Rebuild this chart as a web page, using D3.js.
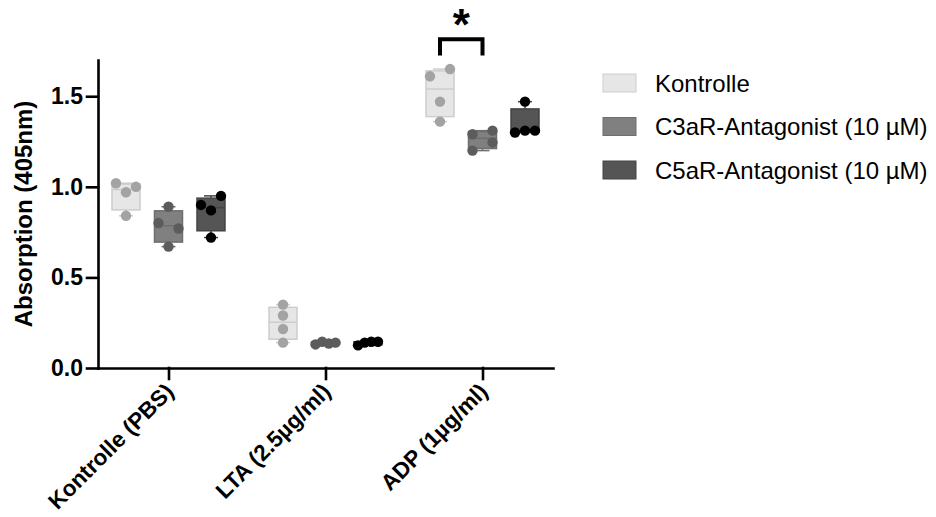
<!DOCTYPE html>
<html>
<head>
<meta charset="utf-8">
<script src="https://cdn.jsdelivr.net/npm/d3@7"></script>
<style>
  body { margin: 0; background: #fff; }
  svg { display: block; font-family: "Liberation Sans", Arial, sans-serif; }
</style>
</head>
<body>
<div id="chart"></div>
<script>
// --- data ---
const groups = ["Kontrolle (PBS)", "LTA (2.5µg/ml)", "ADP (1µg/ml)"];
const series = ["Kontrolle", "C3aR-Antagonist (10 µM)", "C5aR-Antagonist (10 µM)"];

// one array per series, one inner array (replicates) per group
const kontrolleValues = [[1.02, 0.97, 1.00, 0.84], [0.35, 0.29, 0.215, 0.14], [1.61, 1.65, 1.47, 1.36]];
const c3arValues      = [[0.89, 0.80, 0.77, 0.67], [0.13, 0.145, 0.135, 0.14], [1.29, 1.31, 1.20, 1.245]];
const c5arValues      = [[0.90, 0.95, 0.87, 0.72], [0.125, 0.14, 0.145, 0.145], [1.47, 1.30, 1.31, 1.31]];

const yTicks = [0, 0.5, 1.0, 1.5];
const yMax = 1.7;

// significance bracket: ADP, Kontrolle vs C3aR
const sigGroup = "ADP (1µg/ml)";
const sigPair = ["Kontrolle", "C3aR-Antagonist (10 µM)"];
const sigLabel = "*";

// --- styles ---
const boxFill   = ["#e6e6e6", "#808080", "#555555"];
const boxStroke = ["#cdcdcd", "#6e6e6e", "#444444"];
const dotFill   = ["#a3a3a3", "#5c5c5c", "#000000"];

const width = 936, height = 517;
const svg = d3.select("#chart").append("svg")
    .attr("width", width)
    .attr("height", height);

const allValues = [kontrolleValues, c3arValues, c5arValues];

const x = d3.scalePoint(groups, [98, 553]).padding(0.449);
const xSub = d3.scalePoint(series, [-42.5, 42.5]);
const y = d3.scaleLinear([0, yMax], [368, 60]);

const boxW = 28, capW = 14, r = 5.2;
const rowH = 10, halfSpread = 10;

// GraphPad-style percentile (n+1)p
function quant(sorted, p) {
    const n = sorted.length;
    const pos = p * (n + 1);
    if (pos <= 1) return sorted[0];
    if (pos >= n) return sorted[n - 1];
    const lo = Math.floor(pos);
    return sorted[lo - 1] + (pos - lo) * (sorted[lo] - sorted[lo - 1]);
}

// scatter like Prism: dots that fall in the same row are spread sideways
function scatterRows(vals) {
    const pts = vals.map((v, i) => ({ v, i, py: y(v), px: 0 }));
    const byTop = pts.slice().sort((a, b) => a.py - b.py);
    let row = [];
    const flush = () => {
        row.sort((a, b) => a.i - b.i);
        const k = row.length;
        row.forEach((p, j) => { p.px = k > 1 ? -halfSpread + 2 * halfSpread * j / (k - 1) : 0; });
        row = [];
    };
    byTop.forEach(p => {
        if (row.length && p.py - row[0].py >= rowH) flush();
        row.push(p);
    });
    flush();
    return pts;
}

// build per box records
const boxes = [];
series.forEach((s, si) => {
    groups.forEach((g, gi) => {
        const vals = allValues[si][gi];
        const sorted = vals.slice().sort(d3.ascending);
        boxes.push({
            s, si, g,
            cx: x(g) + xSub(s),
            min: sorted[0], max: sorted[sorted.length - 1],
            q1: quant(sorted, 0.25), med: quant(sorted, 0.5), q3: quant(sorted, 0.75),
            pts: scatterRows(vals)
        });
    });
});

const gBox = svg.append("g").selectAll("g")
    .data(boxes)
    .join("g")
    .attr("transform", d => `translate(${d.cx},0)`);

// whiskers
gBox.append("line")
    .attr("y1", d => y(d.max)).attr("y2", d => y(d.q3))
    .attr("stroke", d => boxStroke[d.si]).attr("stroke-width", 1.5);
gBox.append("line")
    .attr("y1", d => y(d.q1)).attr("y2", d => y(d.min))
    .attr("stroke", d => boxStroke[d.si]).attr("stroke-width", 1.5);
gBox.selectAll(".cap")
    .data(d => [d.min, d.max].map(v => ({ v, si: d.si })))
    .join("line")
    .attr("class", "cap")
    .attr("x1", -capW / 2).attr("x2", capW / 2)
    .attr("y1", d => y(d.v)).attr("y2", d => y(d.v))
    .attr("stroke", d => boxStroke[d.si]).attr("stroke-width", 1.5);

// box
gBox.append("rect")
    .attr("x", -boxW / 2).attr("width", boxW)
    .attr("y", d => y(d.q3))
    .attr("height", d => Math.max(0.5, y(d.q1) - y(d.q3)))
    .attr("fill", d => boxFill[d.si])
    .attr("stroke", d => boxStroke[d.si]).attr("stroke-width", 1.5);
gBox.append("line")
    .attr("x1", -boxW / 2).attr("x2", boxW / 2)
    .attr("y1", d => y(d.med)).attr("y2", d => y(d.med))
    .attr("stroke", d => boxStroke[d.si]).attr("stroke-width", 1.5);

// dots
gBox.selectAll("circle")
    .data(d => d.pts.map(p => ({ ...p, si: d.si })))
    .join("circle")
    .attr("cx", d => d.px).attr("cy", d => d.py)
    .attr("r", r)
    .attr("fill", d => dotFill[d.si]);

// axes
const yAxis = svg.append("g")
    .attr("transform", "translate(98,0)")
    .call(d3.axisLeft(y).tickValues(yTicks).tickFormat(d3.format(".1f")).tickSize(11).tickSizeOuter(0).tickPadding(4));
const xAxis = svg.append("g")
    .attr("transform", `translate(0,${y(0)})`)
    .call(d3.axisBottom(x).tickSize(11).tickSizeOuter(0));

[yAxis, xAxis].forEach(a => {
    a.selectAll("path, line").attr("stroke", "#000").attr("stroke-width", 2.6).attr("stroke-linecap", "square");
    a.selectAll("text").attr("fill", "#000").attr("font-size", 23).attr("font-weight", "bold")
        .attr("font-family", "'Liberation Sans', Arial, sans-serif");
});

xAxis.selectAll("text")
    .attr("x", 0).attr("y", 0).attr("dy", 0)
    .attr("font-size", 22.5)
    .attr("text-anchor", "end")
    .attr("transform", "translate(6,25) rotate(-45)");

svg.append("text")
    .attr("transform", `translate(32,${y(yMax / 2)}) rotate(-90)`)
    .attr("text-anchor", "middle")
    .attr("font-size", 24).attr("font-weight", "bold")
    .text("Absorption (405nm)");

// significance bracket
const bx1 = x(sigGroup) + xSub(sigPair[0]);
const bx2 = x(sigGroup) + xSub(sigPair[1]);
const bTop = y(1.815), bLeg = y(1.725);
svg.append("path")
    .attr("d", `M${bx1},${bLeg}V${bTop}H${bx2}V${bLeg}`)
    .attr("fill", "none").attr("stroke", "#000").attr("stroke-width", 4);
svg.append("text")
    .attr("x", (bx1 + bx2) / 2).attr("y", 40)
    .attr("text-anchor", "middle")
    .attr("font-size", 44).attr("font-weight", "bold")
    .text(sigLabel);

// legend
const legend = svg.append("g").attr("transform", "translate(603,83)")
    .selectAll("g")
    .data(series)
    .join("g")
    .attr("transform", (d, i) => `translate(0,${i * 43.5})`);
legend.append("rect")
    .attr("x", 0).attr("y", -9).attr("width", 33).attr("height", 18)
    .attr("fill", (d, i) => boxFill[i])
    .attr("stroke", (d, i) => boxStroke[i]).attr("stroke-width", 1);
legend.append("text")
    .attr("x", 52).attr("y", 8.5)
    .attr("font-size", 24)
    .text(d => d);
</script>
</body>
</html>
